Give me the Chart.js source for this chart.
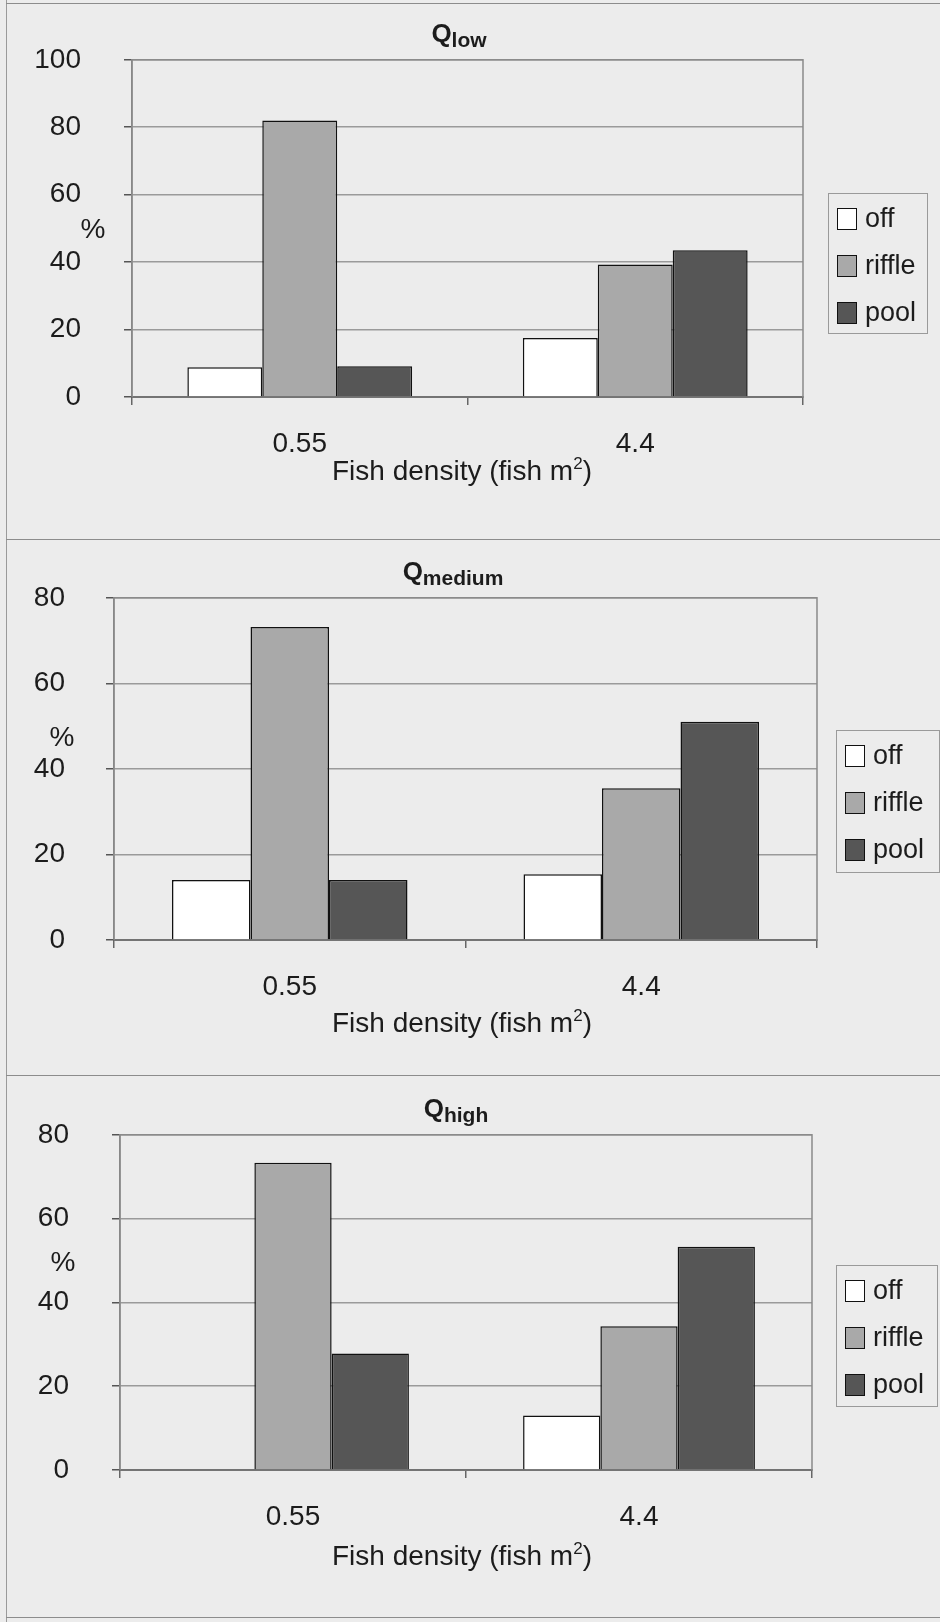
<!DOCTYPE html>
<html>
<head>
<meta charset="utf-8">
<script src="https://cdn.jsdelivr.net/npm/chart.js@4.4.1/dist/chart.umd.min.js"></script>
<style>
    body {
        margin: 0;
        width: 940px;
        height: 1622px;
        position: relative;
        overflow: hidden;
        background: #ececec;
        font-family: "Liberation Sans", Arial, sans-serif;
        color: #1c1c1c;
    }
    .panel { position: absolute; left: 0; width: 940px; }
    .panel canvas { position: absolute; left: 0; top: 0; }
    .rule-h { position: absolute; left: 6px; right: 0; height: 0; border-top: 1.5px solid #8c8c8c; }
    .rule-v { position: absolute; left: 6px; top: 0; bottom: 0; width: 0; border-left: 1.5px solid #9a9a9a; }
    .title { position: absolute; font-weight: bold; font-size: 26px; transform: translate(-50%, -50%); white-space: nowrap; }
    .title sub { font-size: 21px; vertical-align: -5px; }
    .pct { position: absolute; font-size: 28px; transform: translate(-50%, -50%); }
    .xtitle { position: absolute; font-size: 28px; transform: translate(-50%, -50%); white-space: nowrap; }
    .xtitle sup { font-size: 17px; vertical-align: 11px; }
    .legend { position: absolute; border: 1.5px solid #9a9a9a; box-sizing: border-box; }
    .legend .item { position: absolute; left: 0; height: 0; }
    .legend .sw { position: absolute; left: 8px; top: -11px; width: 18px; height: 20px; border: 1.5px solid #111; }
    .legend .lb { position: absolute; left: 36px; top: -17px; font-size: 27px; line-height: 32px; white-space: nowrap; }
</style>
</head>
<body>
<div class="rule-v"></div>
<div class="rule-h" style="top:3px"></div>
<div class="rule-h" style="top:539px"></div>
<div class="rule-h" style="top:1075px"></div>
<div class="rule-h" style="top:1617px"></div>

<div id="panels"></div>

<script>
// data
const categories = ['0.55', '4.4'];
const seriesNames = ['off', 'riffle', 'pool'];
const seriesColors = ['#ffffff', '#a9a9a9', '#565656'];

const lowOff = [8.8, 17.5];
const lowRiffle = [82, 39.3];
const lowPool = [9.1, 43.5];

const mediumOff = [14, 15.4];
const mediumRiffle = [73.2, 35.5];
const mediumPool = [14, 51];

const highOff = [0, 13];
const highRiffle = [73.3, 34.3];
const highPool = [27.8, 53.3];

const yMaxLow = 100;
const yMaxOther = 80;
const yStep = 20;

// panel layout (pixels, local to each panel)
const panels = [
    {
        top: 0, height: 540, titleSub: 'low', max: yMaxLow,
        data: [lowOff, lowRiffle, lowPool],
        plot: { left: 132, right: 803, top: 55, bottom: 397 },
        labelRight: 81, titlePos: [459, 35], pctPos: [93, 229],
        xTitlePos: [462, 470], legend: [828, 193, 100, 141]
    },
    {
        top: 540, height: 535, titleSub: 'medium', max: yMaxOther,
        data: [mediumOff, mediumRiffle, mediumPool],
        plot: { left: 114, right: 817, top: 53, bottom: 400 },
        labelRight: 65, titlePos: [453, 33], pctPos: [62, 197],
        xTitlePos: [462, 482], legend: [836, 190, 104, 143]
    },
    {
        top: 1075, height: 547, titleSub: 'high', max: yMaxOther,
        data: [highOff, highRiffle, highPool],
        plot: { left: 120, right: 812, top: 51, bottom: 395 },
        labelRight: 69, titlePos: [456, 35], pctPos: [63, 187],
        xTitlePos: [462, 480], legend: [836, 190, 102, 142]
    }
];

const Y_WIDTH = 110;
const X_HEIGHT = 70;
const TICK_LEN = 8;

// frame round the plot area
const plotFrame = {
    id: 'plotFrame',
    beforeDatasetsDraw(chart) {
        const a = chart.chartArea;
        const ctx = chart.ctx;
        ctx.save();
        ctx.strokeStyle = '#8a8a8a';
        ctx.lineWidth = 1.5;
        ctx.strokeRect(a.left, a.top, a.right - a.left, a.bottom - a.top);
        ctx.restore();
    }
};

function buildPanel(p) {
    const wrap = document.createElement('div');
    wrap.className = 'panel';
    wrap.style.top = p.top + 'px';
    wrap.style.height = p.height + 'px';
    document.getElementById('panels').appendChild(wrap);

    const canvas = document.createElement('canvas');
    canvas.width = 940;
    canvas.height = p.height;
    canvas.style.width = '940px';
    canvas.style.height = p.height + 'px';
    wrap.appendChild(canvas);

    const title = document.createElement('div');
    title.className = 'title';
    title.innerHTML = 'Q<sub>' + p.titleSub + '</sub>';
    title.style.left = p.titlePos[0] + 'px';
    title.style.top = p.titlePos[1] + 'px';
    wrap.appendChild(title);

    const pct = document.createElement('div');
    pct.className = 'pct';
    pct.textContent = '%';
    pct.style.left = p.pctPos[0] + 'px';
    pct.style.top = p.pctPos[1] + 'px';
    wrap.appendChild(pct);

    const xt = document.createElement('div');
    xt.className = 'xtitle';
    xt.innerHTML = 'Fish density (fish m<sup>2</sup>)';
    xt.style.left = p.xTitlePos[0] + 'px';
    xt.style.top = p.xTitlePos[1] + 'px';
    wrap.appendChild(xt);

    const lg = document.createElement('div');
    lg.className = 'legend';
    lg.style.left = p.legend[0] + 'px';
    lg.style.top = p.legend[1] + 'px';
    lg.style.width = p.legend[2] + 'px';
    lg.style.height = p.legend[3] + 'px';
    seriesNames.forEach((name, i) => {
        const it = document.createElement('div');
        it.className = 'item';
        it.style.top = (25 + i * 47) + 'px';
        it.innerHTML = '<span class="sw" style="background:' + seriesColors[i] + '"></span>' +
            '<span class="lb">' + name + '</span>';
        lg.appendChild(it);
    });
    wrap.appendChild(lg);

    const datasets = seriesNames.map((name, i) => ({
        label: name,
        data: p.data[i],
        backgroundColor: seriesColors[i],
        borderColor: '#111111',
        borderWidth: 1.5,
        categoryPercentage: 0.67,
        barPercentage: 1.0
    }));

    return new Chart(canvas.getContext('2d'), {
        type: 'bar',
        data: { labels: categories, datasets: datasets },
        options: {
            responsive: false,
            animation: false,
            devicePixelRatio: 1,
            layout: {
                padding: {
                    left: p.plot.left - Y_WIDTH,
                    right: 940 - p.plot.right,
                    top: p.plot.top,
                    bottom: p.height - p.plot.bottom - X_HEIGHT
                }
            },
            plugins: {
                legend: { display: false },
                title: { display: false },
                tooltip: { enabled: false }
            },
            scales: {
                y: {
                    min: 0,
                    max: p.max,
                    afterFit: s => { s.width = Y_WIDTH; },
                    ticks: {
                        stepSize: yStep,
                        color: '#1c1c1c',
                        padding: p.plot.left - TICK_LEN - p.labelRight,
                        font: { family: '"Liberation Sans", Arial, sans-serif', size: 28 }
                    },
                    grid: { color: '#9a9a9a', lineWidth: 1.5, tickColor: '#555', tickLength: TICK_LEN },
                    border: { color: '#808080', width: 1.5 }
                },
                x: {
                    afterFit: s => { s.height = X_HEIGHT; },
                    ticks: {
                        color: '#1c1c1c',
                        padding: 22,
                        maxRotation: 0,
                        font: { family: '"Liberation Sans", Arial, sans-serif', size: 28 }
                    },
                    grid: { drawOnChartArea: false, offset: true, tickColor: '#666', tickLength: TICK_LEN, lineWidth: 1.5 },
                    border: { color: '#333', width: 2 }
                }
            }
        },
        plugins: [plotFrame]
    });
}

panels.forEach(buildPanel);
</script>
</body>
</html>
